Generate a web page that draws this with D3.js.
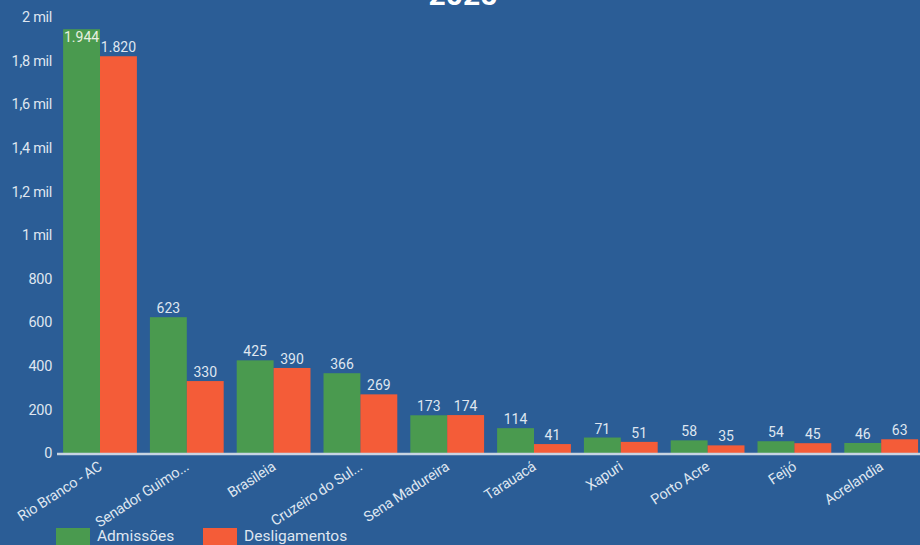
<!DOCTYPE html>
<html><head><meta charset="utf-8">
<script src="https://cdn.jsdelivr.net/npm/d3@7/dist/d3.min.js"></script>
<style>
html,body{margin:0;padding:0;background:#2b5d96;overflow:hidden}
svg{display:block}
</style></head><body>
<svg id="c" width="920" height="545"></svg>
<script>
const categories = ["Rio Branco - AC","Senador Guimo...","Brasileia","Cruzeiro do Sul...","Sena Madureira","Tarauacá","Xapuri","Porto Acre","Feijó","Acrelandia"];
const admissoes = [1944,623,425,366,173,114,71,58,54,46];
const desligamentos = [1820,330,390,269,174,41,51,35,45,63];
const seriesNames = ["Admissões","Desligamentos"];
const yTicks = [0,200,400,600,800,1000,1200,1400,1600,1800,2000];
const yTickLabels = ["0","200","400","600","800","1 mil","1,2 mil","1,4 mil","1,6 mil","1,8 mil","2 mil"];
const title = "2025";

const colors = ["#4a9a4f","#f45c38"];
const svg = d3.select("#c");
const W = 920, H = 545;
const txt = "#dfe6f0";
const font = "Roboto, 'Liberation Sans', sans-serif";

svg.append("rect").attr("width",W).attr("height",H).attr("fill","#2b5d96");

const x = d3.scaleBand().domain(categories).range([56.6, 924.6]).paddingInner(0.15).paddingOuter(0.075);
const x1 = d3.scaleBand().domain(seriesNames).range([0, x.bandwidth()]);
const y = d3.scaleLinear().domain([0,2000]).range([453, 17]);

// title
svg.append("text").attr("x",463).attr("y",5).attr("text-anchor","middle")
  .attr("fill","#ffffff").attr("font-family",font).attr("font-weight","bold")
  .attr("font-size",30).text(title);

// y axis
const yAxis = d3.axisLeft(y).tickValues(yTicks).tickSize(0).tickPadding(0)
  .tickFormat((d,i)=>yTickLabels[i]);
const gy = svg.append("g").attr("transform","translate(52,0)").call(yAxis);
gy.select(".domain").remove();
gy.selectAll("text").attr("fill",txt).attr("font-family",font).attr("font-size",14.5)
  .attr("letter-spacing","-0.3px");

// bars
const data = categories.map((c,i)=>({c, vals:[admissoes[i], desligamentos[i]]}));
const g = svg.append("g");
data.forEach(d=>{
  d.vals.forEach((v,j)=>{
    const bx = x(d.c)+x1(seriesNames[j]);
    g.append("rect").attr("x",bx).attr("y",y(v)).attr("width",x1.bandwidth())
      .attr("height",y(0)-y(v)).attr("fill",colors[j]);
    const label = d3.format(",")(v).replace(/,/g,".");
    const inside = y(v) < 40;
    g.append("text").attr("x",bx+x1.bandwidth()/2)
      .attr("y", inside ? y(v)+13 : y(v)-4)
      .attr("text-anchor","middle").attr("fill",inside ? "#e8f0e0" : txt)
      .attr("font-family",font).attr("font-size",14).text(label);
  });
});

// x axis
const xAxis = d3.axisBottom(x).tickSize(0).tickPadding(0);
const gx = svg.append("g").attr("transform","translate(0,454)").call(xAxis);
gx.select(".domain").attr("stroke","#c8d4e2").attr("stroke-width",2.5)
  .attr("d","M57,0H920");
gx.selectAll("text").attr("fill",txt).attr("font-family",font).attr("font-size",14.5)
  .attr("text-anchor","end").attr("dy",0)
  .attr("transform","translate(3,15) rotate(-33)")
  .attr("letter-spacing","-0.2px");

// legend
const lg = svg.append("g");
const legX = [56,203];
seriesNames.forEach((s,i)=>{
  lg.append("rect").attr("x",legX[i]).attr("y",528).attr("width",34).attr("height",18).attr("fill",colors[i]);
  lg.append("text").attr("x",legX[i]+41).attr("y",541).attr("fill",txt)
    .attr("font-family",font).attr("font-size",15.5).text(s);
});
</script></body></html>
